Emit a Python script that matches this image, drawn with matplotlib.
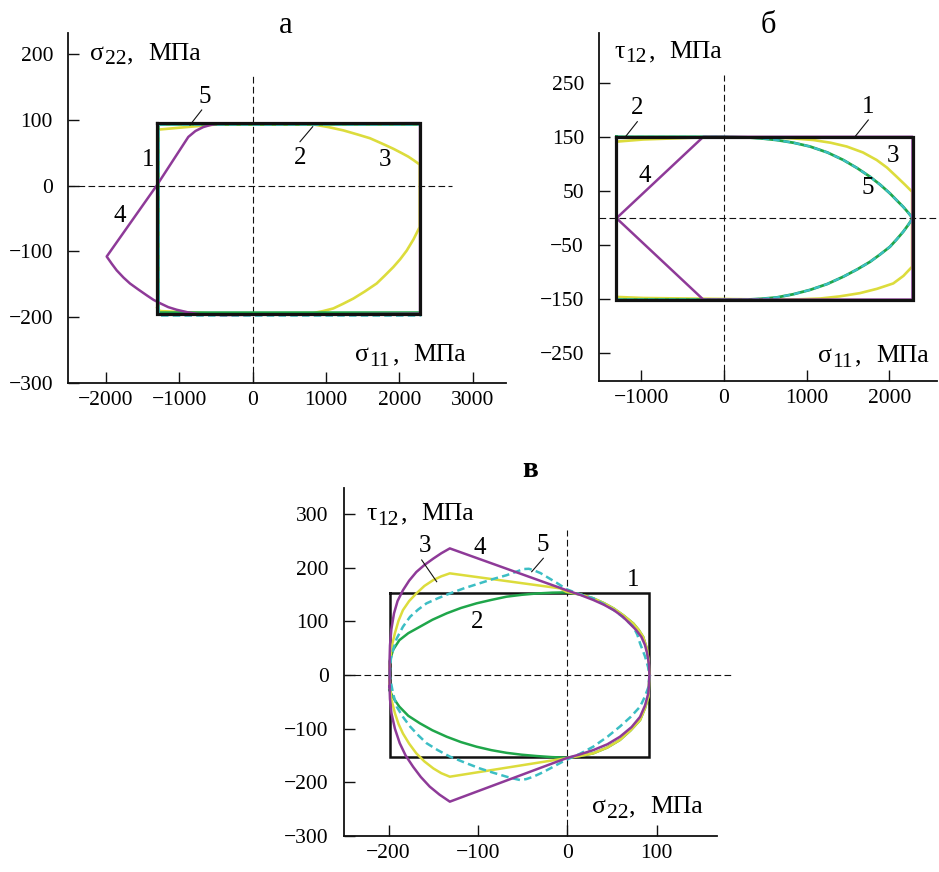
import matplotlib
matplotlib.use("Agg")
import matplotlib.pyplot as plt
from matplotlib.lines import Line2D

plt.rcParams["font.family"] = ["Liberation Serif", "DejaVu Serif"]

W, H = 939, 872

BLACK = "#111111"
PURPLE = "#8e3a98"
YELLOW = "#dcdc3c"
GREEN = "#1fa64a"
CYAN = "#3cbec4"

# ---- панель а: sigma11 - sigma22 ----
a_rect_s11 = [-1300, 2280, 2280, -1300, -1300]
a_rect_s22 = [95, 95, -195, -195, 95]
a_c2_s11 = [-1295, 2275, 2275, -1295, -1295]
a_c2_s22 = [93, 93, -193, -193, 93]
a_c5_s11 = [-1295, 2275, 2275, -1295, -1295]
a_c5_s22 = [93, 93, -197, -197, 93]
a_c3_s11 = [-1300, -1300, -899, -490, 826, 1030, 1234, 1420, 1598, 1760, 1916, 2020,
            2120, 2200, 2275, 2275, 2190, 2098, 2010, 1916, 1800, 1689, 1530, 1371,
            1230, 1098, 960, 826, -490, -1263, -1300]
a_c3_s22 = [-186, 85, 89, 93, 93, 89, 84, 78, 72, 64, 56, 50,
            44, 38, 32, -63, -82, -99, -112, -124, -137, -149, -161, -172,
            -180, -187, -191, -194, -195, -191, -186]
a_c4_s11 = [-490, -580, -673, -780, -877, -1308, -1989, -1920, -1853, -1760, -1672,
            -1560, -1444, -1350, -1263, -1150, -1035, -880, -718, -400, 2280, 2280, -490]
a_c4_s22 = [94, 92, 89, 83, 74, 0, -108, -119, -129, -140, -149,
            -158, -167, -174, -179, -185, -189, -193, -196, -197, -195, 95, 94]

# ---- панель б: sigma11 - tau12 ----
b_rect_s11 = [-1300, 2280, 2280, -1300, -1300]
b_rect_t12 = [151, 151, -151, -151, 151]
b_c4_s11 = [-1300, -250, 2280, 2280, -250, -1300]
b_c4_t12 = [0, 151, 151, -151, -151, 0]
b_c3_s11 = [-1300, -976, -250, 596, 840, 1080, 1290, 1484, 1680, 1846, 1970, 2088,
            2190, 2275, 2275, 2170, 2047, 1850, 1644, 1400, 1161, 900, 645,
            -976, -1300, -1300]
b_c3_t12 = [142, 146, 150, 150, 148, 145, 140, 133, 122, 108, 94, 77,
            62, 49, -90, -107, -121, -131, -139, -145, -149, -150.5, -151,
            -148, -146, 142]
b_c25_s11 = [-1300, 0, 274, 450, 637, 840, 1040, 1250, 1443, 1610, 1765, 1890, 2007,
             2090, 2168, 2230, 2282, 2230, 2168, 2090, 2007, 1890, 1765, 1610, 1443,
             1250, 1040, 840, 637, 450, 274, 0, -1300, -1300]
b_c25_t12 = [151, 151, 150, 148, 145, 140, 133, 122, 108, 93, 77, 62, 46,
             33, 21, 10, 0, -12, -25, -39, -53, -67, -81, -95, -108.5,
             -122, -133, -141, -147, -149.5, -151, -151, -151, 151]

# ---- панель в: sigma22 - tau12 ----
c_rect_s22 = [-199, 92, 92, -199, -199]
c_rect_t12 = [152, 152, -152, -152, 152]
c_c4_s22 = [-199, -199, -198.5, -197, -194, -190, -184, -177, -169, -160, -150, -141,
            -131.5, 1, 15, 29, 41, 52, 62, 70, 77, 83, 87, 89.5, 91.5, 92, 91.5, 90.8,
            87, 81.5, 72, 59, 45, 29, 14, -1, -131.5, -143, -154, -164, -172.6, -181,
            -187.6, -193, -196.9, -198.5, -199]
c_c4_t12 = [-22, 25, 55, 85, 115, 138, 158, 176, 192, 205, 217, 227,
            236, 157, 149, 140, 131, 121, 109, 96, 84, 71, 56, 40, 20, 0, -17, -34,
            -57, -78, -97, -115, -129, -140, -148, -155, -236, -223, -208, -190, -171, -150,
            -127, -100, -71, -45, -22]
c_c3_s22 = [-199, -199, -197, -193, -189, -184, -177, -169, -160, -150, -141, -131.5,
            -8, -1, 15, 29, 41, 52, 63, 74, 80, 85, 89, 91, 92, 91.5, 91, 87, 81.5, 71,
            59, 45, 29, 14, -1, -131.5, -141, -150, -160, -169, -177, -184, -189, -193,
            -197, -199]
c_c3_t12 = [-15, 15, 50, 78, 101, 121, 138, 152, 166, 177, 184, 189.5,
            161.5, 155, 150, 143, 134, 124, 111, 96, 84, 71, 50, 28, 0, -20, -40, -62, -84, -103,
            -121, -135, -146, -151, -155, -189.5, -183, -174, -161, -146, -128, -109, -91, -71,
            -45, -15]
c_c2_s22 = [-199, -199, -195, -188, -178, -165, -151, -135, -119, -101.6, -85, -68, -51,
            -34, -17, -1, 15, 29, 41, 52, 63, 74, 80, 85, 89, 91, 92, 91.5, 91, 87, 81.5,
            71, 59, 45, 29, 14, -1, -17, -34, -51, -68, -85, -101.6, -119, -135, -151,
            -165, -178, -188, -195, -199]
c_c2_t12 = [-28, 25, 47, 65, 78, 90, 103, 115, 125, 133.6, 140, 146, 149.5,
            152, 153.5, 154, 150, 143, 134, 124, 111, 96, 84, 71, 50, 28, 0, -20, -40, -62, -84,
            -103, -121, -135, -146, -151, -154, -153, -151, -148.5, -145, -140, -133.6, -125, -115, -103,
            -90, -76, -59, -42, -28]
c_c5_s22 = [-199, -197.5, -194.5, -191, -184, -176, -167, -157.6, -145, -131.5, -115, -98,
            -83, -68, -58, -49, -43, -38, -30, -23, -12, -1, 15, 29, 42, 55, 65, 74, 78.5,
            81.5, 87, 90.5, 92, 91.5, 91, 87, 81.5, 71, 59, 45, 29, 14, -1, -8, -15.7, -27,
            -38, -46, -53, -60, -68, -83, -98, -115, -131.5, -145, -157.6, -167, -176, -184,
            -191, -195, -199]
c_c5_t12 = [0, 30, 50, 68, 90, 108.6, 122, 133.6, 143, 152, 162, 171,
            179, 186, 192, 197.5, 198, 195.6, 190, 183, 172, 160, 150, 143, 131, 118, 104, 90, 75,
            59, 35, 15, 0, -10, -22, -40, -59, -78, -96, -115, -133.6, -147, -158, -164, -171, -181,
            -189.5, -194, -195.6, -193, -189.5, -182, -174, -163, -152, -140, -127, -112, -96, -78,
            -59, -35, 0]

a_xticks = [-2000, -1000, 0, 1000, 2000, 3000]
a_yticks = [-300, -200, -100, 0, 100, 200]
b_xticks = [-1000, 0, 1000, 2000]
b_yticks = [-250, -150, -50, 50, 150, 250]
c_xticks = [-200, -100, 0, 100]
c_yticks = [-300, -200, -100, 0, 100, 200, 300]


def fp(x, y):
    """пиксели -> доли фигуры"""
    return x / W, 1 - y / H


def make_axes(fig, left, top, right, bottom, xlim, ylim, xticks, yticks):
    ax = fig.add_axes([left / W, 1 - bottom / H, (right - left) / W, (bottom - top) / H])
    ax.set_xlim(*xlim)
    ax.set_ylim(*ylim)
    ax.set_xticks(xticks)
    ax.set_yticks(yticks)
    for s in ["top", "right"]:
        ax.spines[s].set_visible(False)
    for s in ["left", "bottom"]:
        ax.spines[s].set_linewidth(1.3)
        ax.spines[s].set_color(BLACK)
    ax.tick_params(direction="in", length=8, width=1.0, labelsize=15.5, color=BLACK)
    ax.tick_params(axis="y", pad=11)
    ax.tick_params(axis="x", pad=6)
    ax.patch.set_alpha(0)
    return ax


def dash_axes(ax, x0, x1, y0, y1):
    ax.plot([x0, x1], [0, 0], color=BLACK, lw=0.8, dashes=(6, 3), clip_on=False, zorder=1)
    ax.plot([0, 0], [y0, y1], color=BLACK, lw=0.8, dashes=(6, 3), clip_on=False, zorder=1)


def axis_label(fig, x0, yb, sym, sub, dx=0):
    """подпись оси вида 'σ22, МПа' (x0 - левый край, yb - базовая линия, в пикселях)"""
    fig.text(*fp(x0, yb), sym, fontsize=18.5, ha="left", va="baseline")
    fig.text(*fp(x0 + 14.5 - dx, yb + 4.5), sub, fontsize=15.5, ha="left", va="baseline")
    fig.text(*fp(x0 + 37.5 - dx, yb), ",", fontsize=18.5, ha="left", va="baseline")
    fig.text(*fp(x0 + 58 - dx, yb), "МПа", fontsize=18.5, ha="left", va="baseline")


def num_labels(fig, items, leaders):
    for t, x, y in items:
        fig.text(*fp(x, y), t, fontsize=18, ha="center", va="center")
    for x0, y0, x1, y1 in leaders:
        fig.add_artist(Line2D([x0 / W, x1 / W], [1 - y0 / H, 1 - y1 / H],
                              transform=fig.transFigure, color=BLACK, lw=0.8))


fig = plt.figure(figsize=(W / 100, H / 100), dpi=100)

# ---- а ----
ax = make_axes(fig, 68.3, 33.3, 506, 382.7, (-2512, 3451), (-300, 231.7), a_xticks, a_yticks)
dash_axes(ax, -2512, 2711, -300, 168)
ax.plot(a_c3_s11, a_c3_s22, color=YELLOW, lw=1.9, zorder=2)
ax.plot(a_c2_s11, a_c2_s22, color=GREEN, lw=1.8, zorder=2)
ax.plot(a_c5_s11, a_c5_s22, color=CYAN, lw=1.8, dashes=(3, 1.7), zorder=2)
ax.plot(a_c4_s11, a_c4_s22, color=PURPLE, lw=1.8, zorder=3)
ax.plot(a_rect_s11, a_rect_s22, color=BLACK, lw=2.3, zorder=4, solid_joinstyle="miter")
axis_label(fig, 90, 60, "σ", "22")
axis_label(fig, 355, 361, "σ", "11")
fig.text(*fp(286, 33), "а", fontsize=22, ha="center", va="baseline")
num_labels(fig, [("5", 205, 97), ("1", 148, 160), ("2", 300, 158), ("3", 385, 160), ("4", 120, 216)],
           [(201.7, 110, 190, 125), (300, 141.7, 312.7, 126.7)])

# ---- б ----
ax = make_axes(fig, 599.3, 33.3, 937, 381, (-1508, 2576), (-302, 343), b_xticks, b_yticks)
dash_axes(ax, -1508, 2576, -302, 265)
ax.plot(b_c3_s11, b_c3_t12, color=YELLOW, lw=1.9, zorder=2)
ax.plot(b_c25_s11, b_c25_t12, color=GREEN, lw=2.0, zorder=2)
ax.plot(b_c25_s11, b_c25_t12, color=CYAN, lw=1.6, dashes=(3, 1.7), zorder=2)
ax.plot(b_c4_s11, b_c4_t12, color=PURPLE, lw=1.8, zorder=3)
ax.plot(b_rect_s11, b_rect_t12, color=BLACK, lw=2.3, zorder=4, solid_joinstyle="miter")
axis_label(fig, 614, 58, "τ", "12", dx=3)
axis_label(fig, 818, 362, "σ", "11")
fig.text(*fp(768, 33), "б", fontsize=22, ha="center", va="baseline")
num_labels(fig, [("2", 637, 108), ("1", 868, 107), ("3", 893, 156), ("4", 645, 176), ("5", 868, 188)],
           [(637.3, 121.7, 625, 137.3), (868.3, 120, 855, 136.7)])

# ---- в ----
ax = make_axes(fig, 344, 488.3, 717.3, 836, (-250, 168), (-300, 348), c_xticks, c_yticks)
dash_axes(ax, -250, 184, -300, 270)
ax.plot(c_rect_s22, c_rect_t12, color=BLACK, lw=1.8, zorder=2, solid_joinstyle="miter")
ax.plot(c_c2_s22, c_c2_t12, color=GREEN, lw=1.8, zorder=3)
ax.plot(c_c3_s22, c_c3_t12, color=YELLOW, lw=1.8, zorder=3)
ax.plot(c_c5_s22, c_c5_t12, color=CYAN, lw=1.8, dashes=(3, 1.7), zorder=4)
ax.plot(c_c4_s22, c_c4_t12, color=PURPLE, lw=1.8, zorder=4)
axis_label(fig, 366, 520, "τ", "12", dx=3)
axis_label(fig, 592, 813, "σ", "22")
fig.text(*fp(530, 477), "в", fontsize=21, fontweight="bold", ha="center", va="baseline")
num_labels(fig, [("3", 425, 546), ("4", 480, 548), ("5", 543, 545), ("1", 633, 580), ("2", 477, 622)],
           [(421.7, 560, 436.7, 581.7), (543.3, 558.3, 531.7, 571.7)])

fig.savefig("out.png", dpi=100)
